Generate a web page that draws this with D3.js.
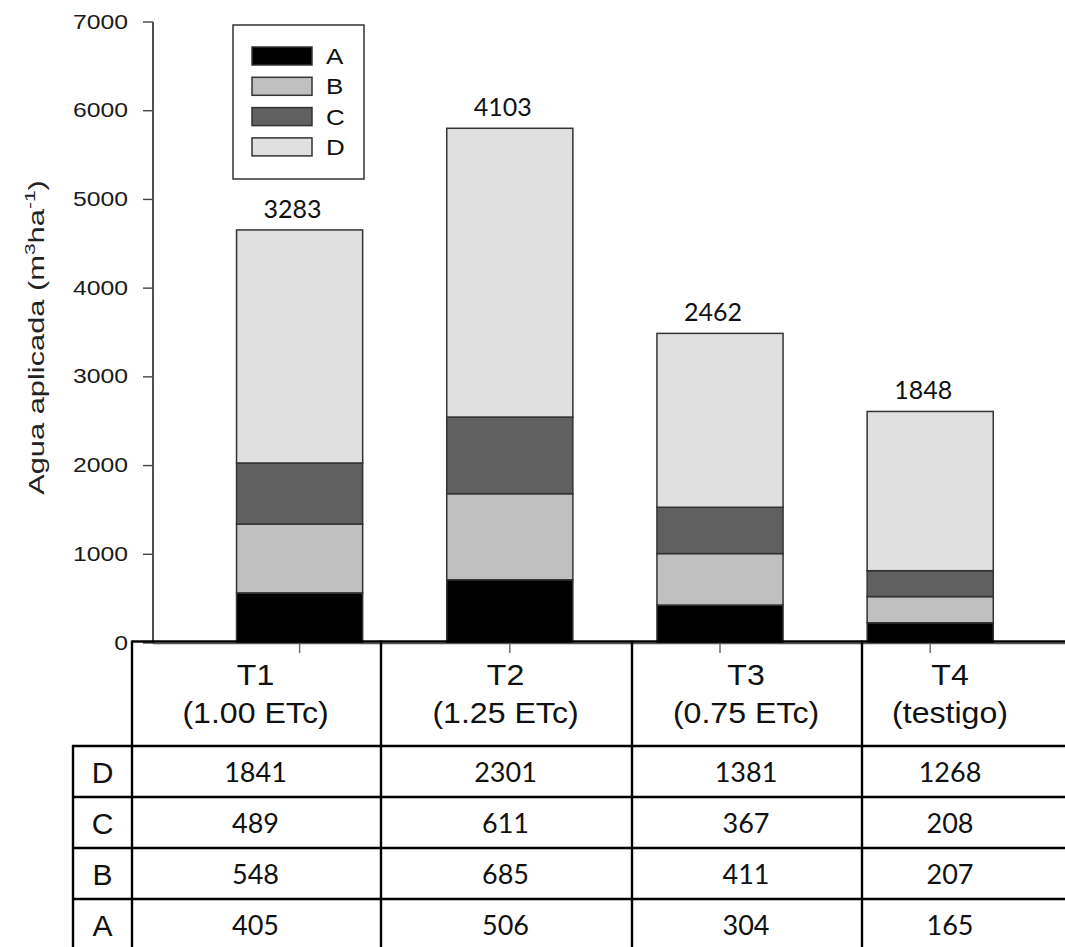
<!DOCTYPE html>
<html><head><meta charset="utf-8">
<script src="https://cdn.jsdelivr.net/npm/d3@7/dist/d3.min.js"></script>
<style>
html,body{margin:0;padding:0;background:#fff;}
svg{display:block;}
</style></head>
<body>
<svg id="chart" width="1065" height="947"></svg>
<script>
// ---------- data ----------
const categories = ["T1", "T2", "T3", "T4"];
const headerLine2 = ["(1.00 ETc)", "(1.25 ETc)", "(0.75 ETc)", "(testigo)"];
const seriesNames = ["A", "B", "C", "D"];
// bar segment heights as drawn in the picture
const barA = [565, 713, 428, 228];
const barB = [776, 970, 580, 295];
const barC = [688, 864, 522, 292];
const barD = [2627, 3255, 1960, 1795];
// labels printed above bars
const totals = [3283, 4103, 2462, 1848];
// table values
const tableD = [1841, 2301, 1381, 1268];
const tableC = [489, 611, 367, 208];
const tableB = [548, 685, 411, 207];
const tableA = [405, 506, 304, 165];
const yTicks = [0, 1000, 2000, 3000, 4000, 5000, 6000, 7000];

const colors = {A: "#000000", B: "#c0c0c0", C: "#606060", D: "#e0e0e0"};

// ---------- layout ----------
const svg = d3.select("#chart");
const y = d3.scaleLinear().domain([0, 7000]).range([643, 22]);
const x = d3.scaleBand().domain(categories).range([194.5, 1035.3]).paddingInner(0.4).paddingOuter(0.2);
const axisX = 153;
const arial = "'Liberation Sans', Arial, sans-serif";
const calib = "Lato, 'Open Sans', sans-serif";

// ---------- bars ----------
const rows = categories.map((c, i) => ({cat: c, A: barA[i], B: barB[i], C: barC[i], D: barD[i]}));
const stack = d3.stack().keys(seriesNames)(rows);
const gBars = svg.append("g");
stack.forEach(layer => {
  gBars.selectAll(null).data(layer).enter().append("rect")
    .attr("x", d => x(d.data.cat))
    .attr("width", x.bandwidth())
    .attr("y", d => y(d[1]))
    .attr("height", d => y(d[0]) - y(d[1]))
    .attr("fill", colors[layer.key])
    .attr("stroke", "#333")
    .attr("stroke-width", 1.5);
});

// totals above bars
const tops = rows.map(r => r.A + r.B + r.C + r.D);
svg.append("g").selectAll("text").data(categories).enter().append("text")
  .attr("x", (c) => x(c) + x.bandwidth() / 2 - 7)
  .attr("y", (c, i) => y(tops[i]) - 12)
  .attr("text-anchor", "middle")
  .attr("font-family", calib)
  .attr("font-size", 25)
  .attr("fill", "#111")
  .text((c, i) => totals[i]);

// ---------- y axis ----------
const gy = svg.append("g").attr("transform", `translate(${axisX},0)`);
gy.append("line").attr("x1", 0).attr("x2", 0).attr("y1", y(7000)).attr("y2", y(0))
  .attr("stroke", "#222").attr("stroke-width", 1.6);
const yt = gy.selectAll(".t").data(yTicks).enter().append("g").attr("transform", d => `translate(0,${y(d)})`);
yt.append("line").attr("x1", -10).attr("x2", 0).attr("stroke", "#444").attr("stroke-width", 1.4);
yt.append("text")
  .attr("transform", "translate(-25,0) scale(1.27,1)")
  .attr("text-anchor", "end")
  .attr("dy", "0.34em")
  .attr("font-family", arial)
  .attr("font-size", 19.5)
  .attr("fill", "#1a1a1a")
  .text(d => d);

// y axis title
const title = svg.append("text")
  .attr("text-anchor", "middle")
  .attr("font-family", arial)
  .attr("font-size", 22)
  .attr("fill", "#222");
title.append("tspan").text("Agua aplicada (m");
title.append("tspan").attr("font-size", 15).attr("dy", -9).text("3");
title.append("tspan").attr("dy", 9).text("ha");
title.append("tspan").attr("font-size", 15).attr("dy", -9).text("-1");
title.append("tspan").attr("dy", 9).text(")");
const tw = title.node().getComputedTextLength();
const sx = 315 / tw;
title.attr("transform", `translate(44,337.5) rotate(-90) scale(${sx},1)`);

// ---------- x axis ----------
svg.append("line").attr("x1", axisX).attr("x2", 1065).attr("y1", 643.5).attr("y2", 643.5)
  .attr("stroke", "#555").attr("stroke-width", 1.5);
svg.append("g").selectAll("line").data(categories).enter().append("line")
  .attr("x1", c => x(c) + x.bandwidth() / 2).attr("x2", c => x(c) + x.bandwidth() / 2)
  .attr("y1", 643).attr("y2", 653)
  .attr("stroke", "#666").attr("stroke-width", 1.4);

// ---------- legend ----------
const lg = svg.append("g");
lg.append("rect").attr("x", 233).attr("y", 25).attr("width", 131).attr("height", 154)
  .attr("fill", "#fff").attr("stroke", "#333").attr("stroke-width", 1.5);
seriesNames.forEach((s, i) => {
  const yy = 47 + i * 30.3;
  lg.append("rect").attr("x", 252).attr("y", yy).attr("width", 60).attr("height", 18)
    .attr("fill", colors[s]).attr("stroke", "#333").attr("stroke-width", 1.5);
  lg.append("text")
    .attr("transform", `translate(326,${yy + 17}) scale(1.18,1)`)
    .attr("font-family", arial).attr("font-size", 22).attr("fill", "#111")
    .text(s);
});

// ---------- table ----------
const colEdges = [132, 381, 632, 862, 1038];
const rowLabelX0 = 73;
const hLines = [746, 797, 848, 899];
const tableRows = [["D", tableD], ["C", tableC], ["B", tableB], ["A", tableA]];
const tg = svg.append("g");
const lineStyle = sel => sel.attr("stroke", "#000").attr("stroke-width", 2.4);
// top border
tg.append("line").attr("x1", colEdges[0]).attr("x2", 1065).attr("y1", 641.5).attr("y2", 641.5).call(lineStyle);
// vertical lines
colEdges.slice(0, 4).forEach(cx => {
  tg.append("line").attr("x1", cx).attr("x2", cx).attr("y1", 640.5).attr("y2", 947).call(lineStyle);
});
tg.append("line").attr("x1", rowLabelX0).attr("x2", rowLabelX0).attr("y1", hLines[0] - 1).attr("y2", 947).call(lineStyle);
// horizontal lines
hLines.forEach(hy => {
  tg.append("line").attr("x1", rowLabelX0 - 1).attr("x2", 1065).attr("y1", hy).attr("y2", hy).call(lineStyle);
});
const colCenter = i => (colEdges[i] + colEdges[i + 1]) / 2 + (i === 3 ? 0 : -1);
// header
categories.forEach((c, i) => {
  const cx = colCenter(i);
  tg.append("text").attr("transform", `translate(${cx},685) scale(1.07,1)`).attr("text-anchor", "middle")
    .attr("font-family", arial).attr("font-size", 30).attr("fill", "#111").text(c);
  tg.append("text").attr("transform", `translate(${cx},723) scale(1.07,1)`).attr("text-anchor", "middle")
    .attr("font-family", arial).attr("font-size", 30).attr("fill", "#111").text(headerLine2[i]);
});
// rows
tableRows.forEach(([lab, vals], r) => {
  const top = hLines[r];
  const base = top + 36;
  tg.append("text").attr("x", (rowLabelX0 + colEdges[0]) / 2).attr("y", base + 1)
    .attr("text-anchor", "middle").attr("font-family", arial).attr("font-size", 30)
    .attr("fill", "#111").text(lab);
  vals.forEach((v, i) => {
    tg.append("text").attr("x", colCenter(i)).attr("y", base).attr("text-anchor", "middle")
      .attr("font-family", calib).attr("font-size", 27).attr("fill", "#111").text(v);
  });
});
</script>
</body></html>
